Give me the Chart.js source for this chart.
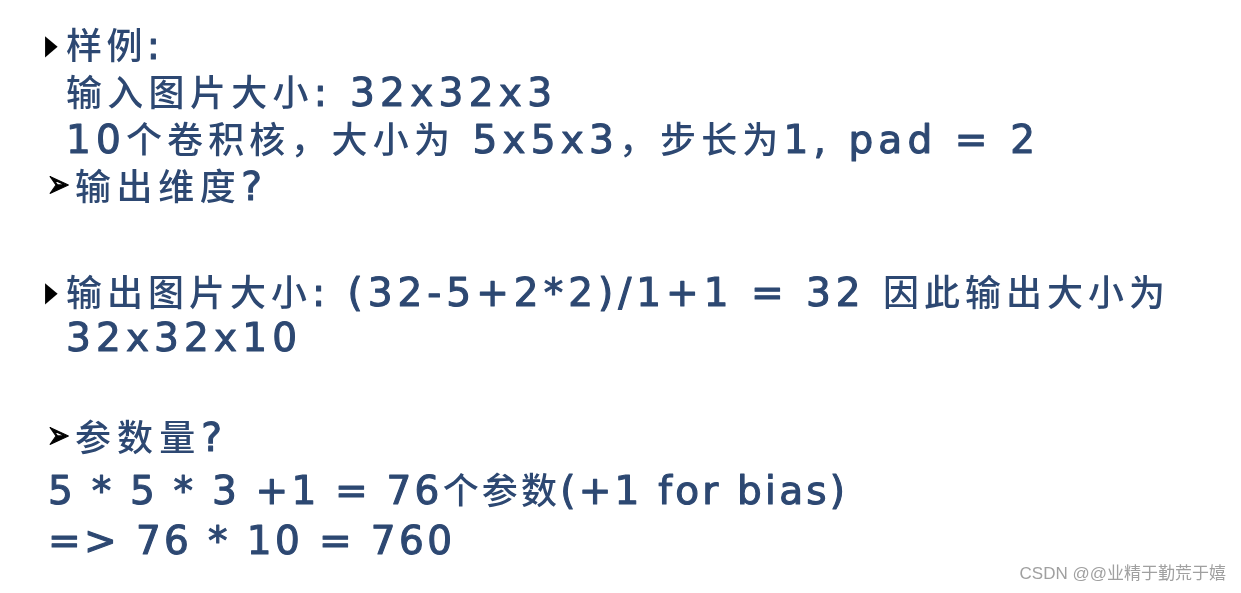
<!DOCTYPE html>
<html>
<head>
<meta charset="utf-8">
<script src="https://cdn.jsdelivr.net/npm/chart.js@4"></script>
<style>
  html, body { margin: 0; padding: 0; background: #fff; }
  #wrap { width: 1241px; height: 593px; }
</style>
</head>
<body>
<div id="wrap"><canvas id="slide" width="1241" height="593"></canvas></div>
<script>
/*
-------------------------------------
/// slide text
-------------------------------------
*/
const lines = [
  '样例:',
  '输入图片大小: 32x32x3',
  '10个卷积核，大小为 5x5x3，步长为1, pad = 2',
  '输出维度?',
  '输出图片大小: (32-5+2*2)/1+1 = 32 因此输出大小为',
  '32x32x10',
  '参数量?',
  '5 * 5 * 3 +1 = 76个参数(+1 for bias)',
  '=> 76 * 10 = 760'
];
const bullets = ['▶', '', '', '➢', '▶', '', '➢', '', ''];
const watermark = 'CSDN @@业精于勤荒于嬉';

// layout (pixels on the 1241x593 slide)
const lineLeft  = [66, 66, 66, 75, 66, 66, 75, 48, 48];
const lineRight = [160, 552, 1035, 262, 1165, 297, 222, 845, 452];
const lineMid   = [45, 92, 139, 186, 292, 337, 437, 490, 540];

const textColor = '#2d4872';
const cjkFont = '500 36px "Noto Sans CJK SC", sans-serif';
const latinFont = '39px "DejaVu Sans", sans-serif';

function isCjk(ch) {
  return /[\u3000-\u9fff\uff00-\uffef]/.test(ch);
}

/*
-------------------------------------
/// text plugin
-------------------------------------
*/
const slideText = {
  id: 'slideText',
  beforeDraw(chart) {
    const c = chart.ctx;
    c.save();
    c.fillStyle = '#fff';
    c.fillRect(0, 0, chart.width, chart.height);
    c.restore();
  },
  afterDraw(chart) {
    const c = chart.ctx;
    const sx = chart.scales.x, sy = chart.scales.y;
    c.save();
    c.textBaseline = 'alphabetic';
    c.textAlign = 'left';

    lines.forEach((txt, i) => {
      const x0 = sx.getPixelForValue(lineLeft[i]);
      const y = sy.getPixelForValue(lineMid[i]);
      const w = sx.getPixelForValue(lineRight[i]) - x0;

      if (bullets[i] === '▶') {
        c.save();
        c.fillStyle = '#000';
        c.font = '22px "DejaVu Sans", sans-serif';
        c.translate(45, y + 9);
        c.scale(0.75, 1.25);
        c.fillText(bullets[i], 0, 0);
        c.restore();
      } else if (bullets[i]) {
        c.save();
        c.fillStyle = '#000';
        c.strokeStyle = '#000';
        c.lineWidth = 1;
        c.font = '32px "DejaVu Sans", sans-serif';
        c.translate(47, y + 11);
        c.scale(0.85, 1.2);
        c.fillText(bullets[i], 0, 0);
        c.strokeText(bullets[i], 0, 0);
        c.restore();
      }

      const chars = [...txt];
      const widths = chars.map(ch => {
        c.font = isCjk(ch) ? cjkFont : latinFont;
        return c.measureText(ch).width;
      });
      const total = widths.reduce((a, b) => a + b, 0);
      const gap = chars.length > 1 ? (w - total) / (chars.length - 1) : 0;

      c.fillStyle = textColor;
      c.strokeStyle = textColor;
      c.lineWidth = 1.1;
      c.lineJoin = 'round';
      let x = x0;
      chars.forEach((ch, k) => {
        const cjk = isCjk(ch);
        c.font = cjk ? cjkFont : latinFont;
        c.fillText(ch, x, y + 14);
        if (!cjk) c.strokeText(ch, x, y + 14);
        x += widths[k] + gap;
      });
    });

    c.fillStyle = '#a0a0a0';
    c.font = '17px "Liberation Sans", "Noto Sans CJK SC", sans-serif';
    c.textAlign = 'right';
    c.textBaseline = 'middle';
    c.fillText(watermark, 1226, 574);
    c.restore();
  }
};

var ctx = document.getElementById('slide').getContext('2d');
var slide = new Chart(ctx, {
  type: 'scatter',
  data: { datasets: [{ data: [] }] },
  options: {
    responsive: false,
    animation: false,
    layout: { padding: 0 },
    scales: {
      x: { type: 'linear', min: 0, max: 1241, display: false },
      y: { type: 'linear', min: 0, max: 593, reverse: true, display: false }
    },
    plugins: {
      legend: { display: false },
      tooltip: { enabled: false }
    }
  },
  plugins: [slideText]
});
</script>
</body>
</html>
